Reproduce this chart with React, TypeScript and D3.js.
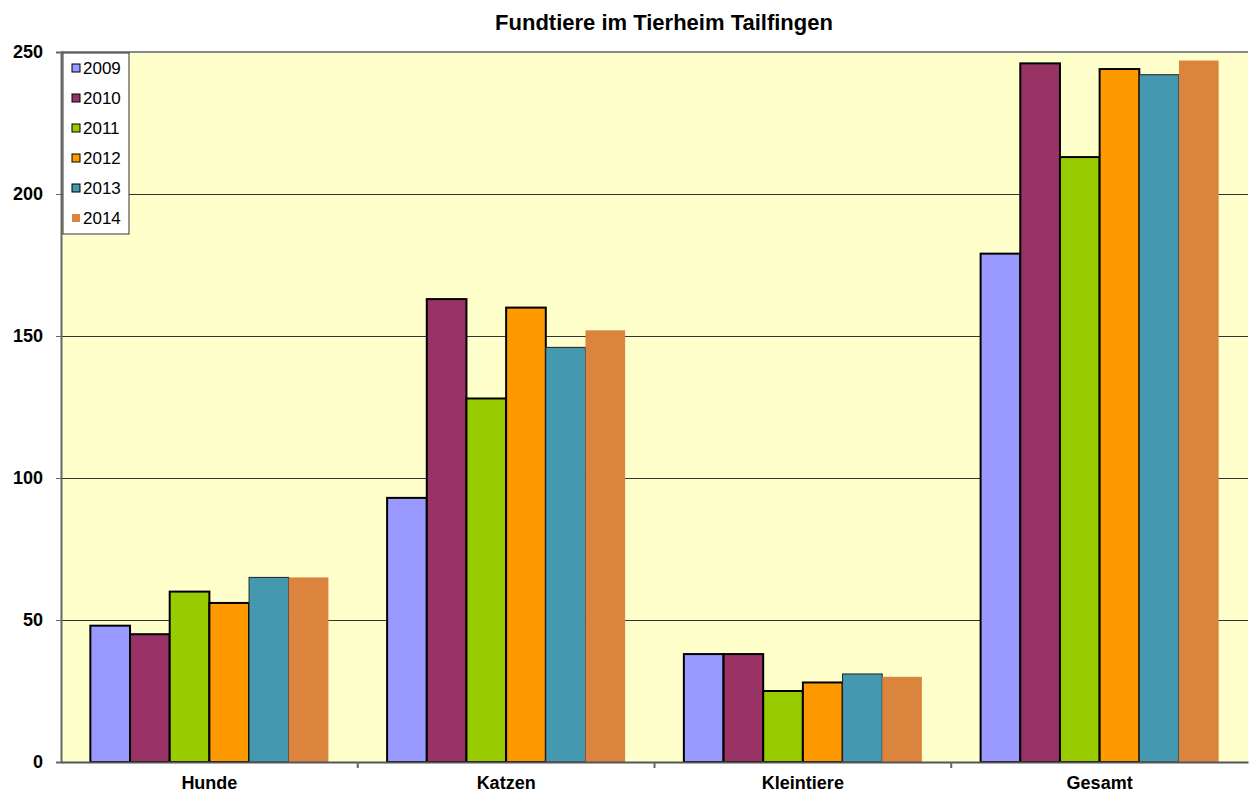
import React, { useEffect, useRef } from 'react';
import * as d3 from 'd3';

const categories = ['Hunde', 'Katzen', 'Kleintiere', 'Gesamt'];
const years = ['2009', '2010', '2011', '2012', '2013', '2014'];
const values2009 = [48, 93, 38, 179];
const values2010 = [45, 163, 38, 246];
const values2011 = [60, 128, 25, 213];
const values2012 = [56, 160, 28, 244];
const values2013 = [65, 146, 31, 242];
const values2014 = [65, 152, 30, 247];
const yTicks = [0, 50, 100, 150, 200, 250];
const colors = ['#9999FF', '#993366', '#99CC00', '#FF9900', '#4499B0', '#DB843D'];

const series = [values2009, values2010, values2011, values2012, values2013, values2014];
const font = 'Liberation Sans, Arial, sans-serif';

export default function App() {
  const ref = useRef<SVGSVGElement | null>(null);

  useEffect(() => {
    const svg = d3.select(ref.current);
    svg.selectAll('*').remove();

    const left = 61, right = 1248, top = 52, bottom = 762;

    const x = d3.scaleBand().domain(categories).range([left, right]).paddingInner(0).paddingOuter(0);
    const inner = d3.scaleBand().domain(years).range([0, x.bandwidth()]).paddingOuter(0.74).paddingInner(0);
    const y = d3.scaleLinear().domain([0, 250]).range([bottom, top]);

    // plot background
    svg.append('rect')
      .attr('x', left).attr('y', top)
      .attr('width', right - left).attr('height', bottom - top)
      .attr('fill', '#FFFFCC');

    // title
    svg.append('text')
      .attr('x', 664).attr('y', 30)
      .attr('text-anchor', 'middle')
      .style('font-family', font)
      .style('font-weight', 'bold')
      .style('font-size', '22px')
      .text('Fundtiere im Tierheim Tailfingen');

    // gridlines
    svg.append('g').selectAll('line')
      .data(yTicks.filter(d => d > 0 && d < 250)).enter()
      .append('line')
      .attr('x1', left).attr('x2', right)
      .attr('y1', d => y(d) + 0.5).attr('y2', d => y(d) + 0.5)
      .attr('stroke', '#333').attr('stroke-width', 1);

    // top border
    svg.append('line')
      .attr('x1', left).attr('x2', right)
      .attr('y1', top).attr('y2', top)
      .attr('stroke', '#888').attr('stroke-width', 2);

    // bars
    series.forEach((vals, si) => {
      svg.append('g').selectAll('rect')
        .data(vals).enter()
        .append('rect')
        .attr('x', (d, i) => x(categories[i])! + inner(years[si])!)
        .attr('y', d => y(d))
        .attr('width', inner.bandwidth())
        .attr('height', d => bottom - y(d))
        .attr('fill', colors[si])
        .attr('stroke', si === 5 ? 'none' : si === 4 ? '#222' : '#000')
        .attr('stroke-width', si === 4 ? 1 : 2);
    });

    // y axis
    const yAxis = svg.append('g')
      .attr('transform', `translate(${left},0)`)
      .call(d3.axisLeft(y).tickValues(yTicks).tickSize(5).tickPadding(13));
    yAxis.select('.domain').attr('stroke', '#666').attr('stroke-width', 2);
    yAxis.selectAll('.tick line').attr('stroke', '#666');
    yAxis.selectAll('text')
      .style('font-family', font)
      .style('font-weight', 'bold')
      .style('font-size', '18px')
      .attr('fill', '#000');

    // x axis
    const xAxis = svg.append('g')
      .attr('transform', `translate(0,${bottom})`)
      .call(d3.axisBottom(x).tickSize(0).tickPadding(14));
    xAxis.select('.domain').attr('stroke', '#555').attr('stroke-width', 2);
    xAxis.selectAll('text')
      .style('font-family', font)
      .style('font-weight', 'bold')
      .style('font-size', '18px')
      .attr('fill', '#000');

    // x category separator ticks
    svg.append('g').selectAll('line')
      .data(categories.slice(1)).enter()
      .append('line')
      .attr('x1', d => x(d)!).attr('x2', d => x(d)!)
      .attr('y1', bottom).attr('y2', bottom + 6)
      .attr('stroke', '#666').attr('stroke-width', 2);

    // legend
    const lg = svg.append('g').attr('transform', 'translate(63,53)');
    lg.append('rect')
      .attr('width', 66).attr('height', 181)
      .attr('fill', '#fff').attr('stroke', '#333').attr('stroke-width', 1);
    years.forEach((yr, i) => {
      const row = lg.append('g').attr('transform', `translate(0,${15 + i * 30})`);
      row.append('rect')
        .attr('x', 9).attr('y', -4).attr('width', 8).attr('height', 8)
        .attr('fill', colors[i])
        .attr('stroke', i === 5 ? 'none' : '#000').attr('stroke-width', 1);
      row.append('text')
        .attr('x', 20).attr('y', 6)
        .style('font-family', font)
        .style('font-size', '17px')
        .text(yr);
    });
  }, []);

  return (
    <svg ref={ref} width={1249} height={794}
      style={{ position: 'absolute', left: 0, top: 0, background: '#fff' }} />
  );
}
